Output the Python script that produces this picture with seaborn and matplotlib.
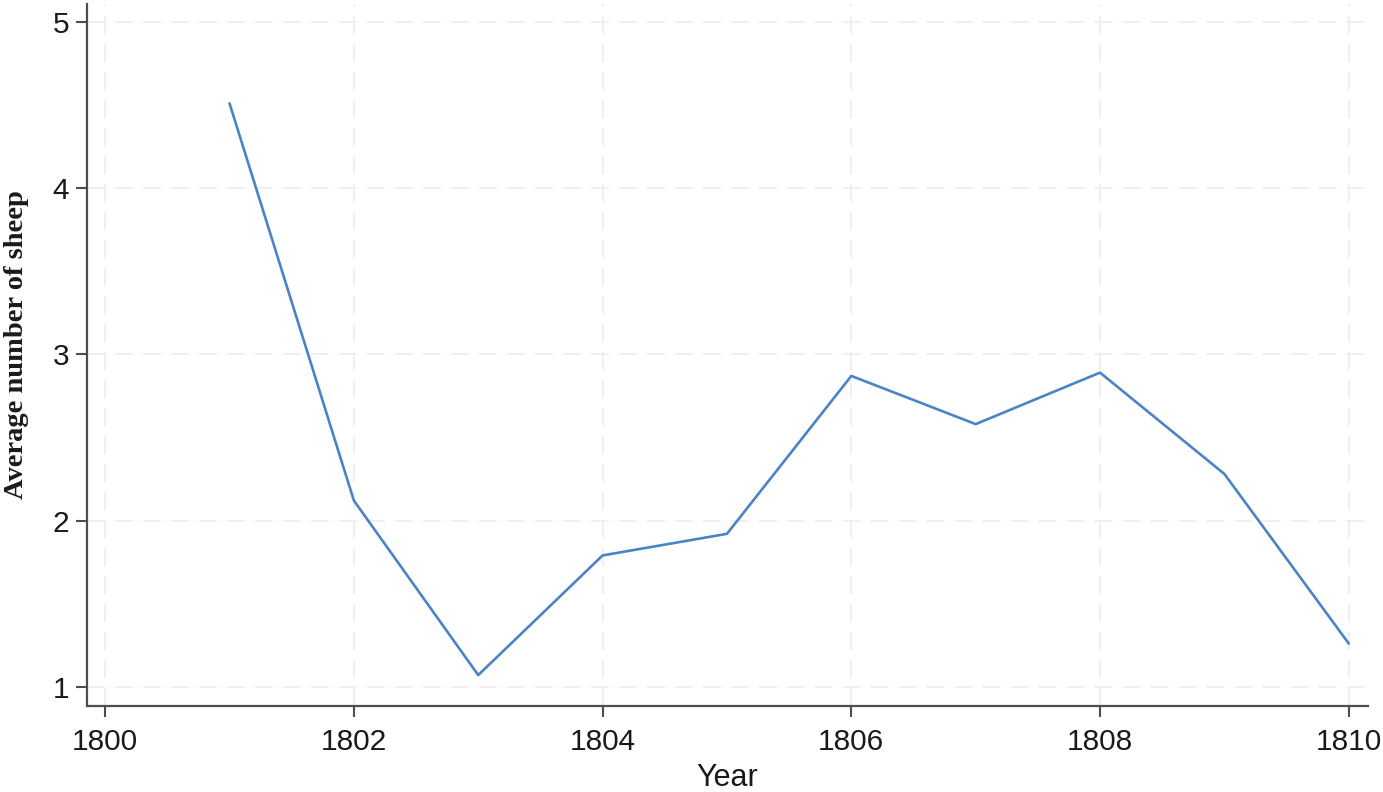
import matplotlib
matplotlib.use("Agg")
import matplotlib.pyplot as plt
import seaborn as sns
import pandas as pd

# values
years = [1801, 1802, 1803, 1804, 1805, 1806, 1807, 1808, 1809, 1810]
avg_sheep = [4.51, 2.12, 1.07, 1.79, 1.92, 2.87, 2.58, 2.89, 2.28, 1.26]
x_ticks = [1800, 1802, 1804, 1806, 1808, 1810]
y_ticks = [1, 2, 3, 4, 5]

df = pd.DataFrame({"Year": years, "sheep": avg_sheep})

sns.set_style("white")
plt.rcParams['font.family'] = ['Liberation Sans', 'DejaVu Sans']

fig = plt.figure(figsize=(13.83, 7.92), dpi=100)
ax = fig.add_axes([0.063, 0.109, 0.926, 0.886])

sns.lineplot(data=df, x="Year", y="sheep", ax=ax, color="#4a84c6", linewidth=1.9)

ax.set_xlim(1799.855, 1810.153)
ax.set_ylim(0.886, 5.108)
ax.set_xticks(x_ticks)
ax.set_yticks(y_ticks)
ax.grid(True, color="#eeeeee", linestyle=(0, (10, 5.5)), linewidth=1.3)

for side in ["top", "right"]:
    ax.spines[side].set_visible(False)
for side in ["left", "bottom"]:
    ax.spines[side].set_color("#4d4d4d")
    ax.spines[side].set_linewidth(1.6)

ax.tick_params(axis="both", which="major", bottom=True, left=True, length=8, width=1.5,
               color="#4d4d4d", labelsize=21.5, labelcolor="#1a1a1a")
ax.tick_params(axis="x", pad=8)
ax.tick_params(axis="y", pad=5)
ax.set_xlabel("Year", fontsize=22, color="#1a1a1a", labelpad=5)
ax.set_ylabel("Average number of sheep", fontsize=20.5, fontweight="bold",
              family=["Liberation Serif", "DejaVu Serif"], color="#1a1a1a")
ax.yaxis.set_label_coords(-0.045, 0.514)

fig.savefig("out.png", dpi=100)
